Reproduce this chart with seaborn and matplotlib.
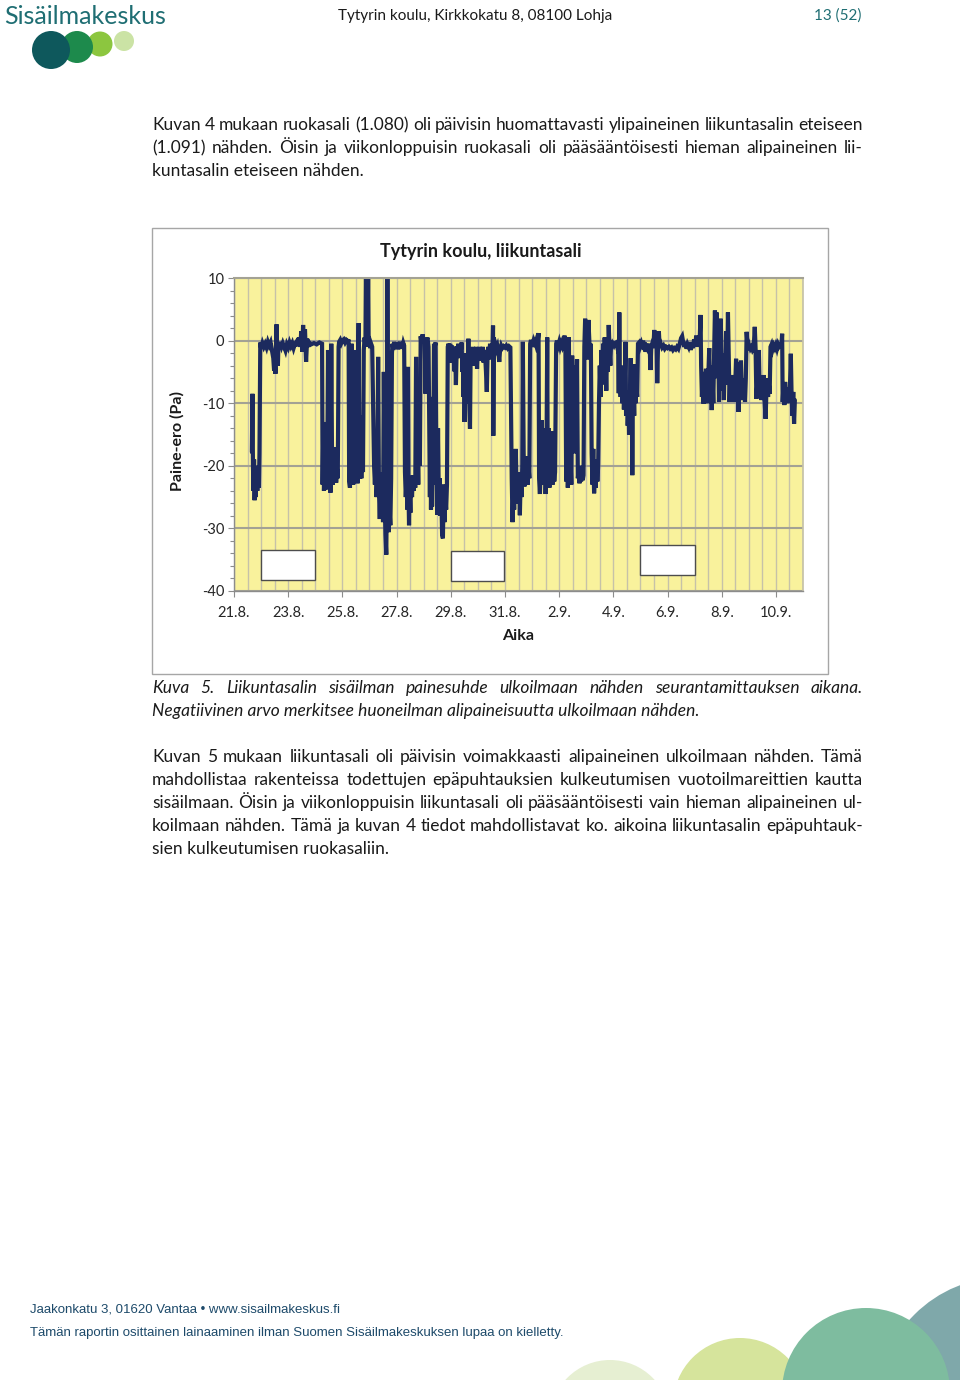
import numpy as np
import pandas as pd
import matplotlib
matplotlib.use("Agg")
import matplotlib.pyplot as plt
from matplotlib.patches import Circle, Rectangle
from matplotlib.ticker import MultipleLocator, FixedLocator
import seaborn as sns

# ---------------- data (day since 21.8., pressure difference Pa) ----------------
seg_a = [(0.66,-17.8),(0.68,-8.5),(0.70,-20),(0.72,-24),(0.74,-19),(0.76,-25.5),(0.78,-22),(0.80,-25),
         (0.83,-20),(0.86,-24),(0.89,-21),(0.92,-23.5),(0.94,-18)]
seg_b = [(0.97,-0.3),(1.0,-1.2),(1.05,-0.4),(1.10,-1.0),(1.15,-0.5),(1.20,-1.1),(1.25,-0.2),(1.30,-0.8),
         (1.35,-0.3),(1.40,-1.5),(1.45,-2.8),(1.48,-4.8),(1.50,-1.5),(1.53,-5.3),(1.55,-0.5),(1.57,2.6),
         (1.59,-1.0),(1.62,-4.0),(1.64,-0.6),(1.68,-1.3),(1.72,-0.2),(1.76,-0.9),(1.80,-0.4),(1.85,-1.0),
         (1.90,-1.6),(1.95,-0.6),(2.0,-1.1),(2.05,-0.3),(2.10,-0.9),(2.15,-0.4),(2.20,-1.2),(2.25,-0.5),
         (2.30,-0.2),(2.35,-0.9),(2.40,0.5),(2.45,-1.0),(2.48,1.5),(2.52,-1.8),(2.55,2.5),(2.58,-0.5),
         (2.62,1.8),(2.66,-3.4),(2.70,0.3),(2.74,-1.0),(2.78,-0.3),(2.85,-0.6),(2.95,-0.4),(3.05,-0.6),
         (3.15,-0.3),(3.25,-0.5)]
seg_c = [(3.27,-23),(3.30,-13),(3.32,-24),(3.35,-20),(3.38,-23.8),(3.41,-14),(3.44,-22),(3.47,-1.5),
         (3.50,-22.5),(3.53,-17),(3.56,-24.3),(3.59,-0.5),(3.62,-20),(3.65,-23),(3.68,-17),(3.71,-22),
         (3.74,-19),(3.77,-22.7),(3.80,-20.5),(3.83,-22),(3.86,-1.0)]
seg_d = [(3.88,-0.2),(3.92,0.1),(3.96,-0.4),(4.00,0.0),(4.05,0.2),(4.10,-0.3),(4.15,0.1),(4.20,-0.1),(4.23,0.2)]
seg_e = [(4.25,-22.5),(4.28,-23.5),(4.30,-10),(4.32,-23),(4.34,-0.5),(4.36,-22),(4.38,-18),(4.40,-23),
         (4.42,-5),(4.44,-21.5),(4.46,-12),(4.48,-22),(4.50,-1.5),(4.52,-19),(4.54,-13),(4.56,-22.8),
         (4.58,-4),(4.60,2.8),(4.62,-16),(4.64,-22)]
seg_f = [(4.67,-13),(4.70,-22),(4.73,-12),(4.76,-21),(4.79,-1.5),(4.82,0.5),(4.85,-1),(4.87,12),(4.89,0),
         (4.91,12),(4.93,-0.5),(4.95,12),(4.97,-1),(5.00,-0.3),(5.03,-1.2),(5.06,-0.5),(5.10,-1.0)]
seg_g = [(5.17,-20),(5.20,-23),(5.23,-19),(5.26,-25),(5.29,-22),(5.32,-2.6),(5.35,-24),(5.38,-28.5),
         (5.41,-22),(5.44,-26),(5.47,-21),(5.50,-29),(5.53,-5),(5.56,-25),(5.59,-31),(5.62,-34.2),
         (5.65,-20),(5.66,12),(5.68,-25),(5.71,-30.6),(5.74,-27),(5.77,-29.5),(5.80,-22),(5.83,-2)]
seg_h = [(5.85,-0.5),(5.88,-1.5),(5.91,-0.2),(5.94,-1.0),(5.97,-0.3),(6.00,-1.2),(6.03,-0.4),(6.06,-1.4),
         (6.09,-0.6),(6.12,-0.2),(6.15,-1.0),(6.18,-0.5),(6.21,-1.3),(6.25,-0.4),(6.28,-0.8)]
seg_i = [(6.31,-21),(6.34,-25),(6.37,-22),(6.40,-27),(6.42,-4.2),(6.44,-24),(6.46,-29.5),(6.48,-24),
         (6.51,-27.5),(6.54,-22),(6.57,-25),(6.60,-21.5),(6.63,-24),(6.66,-22),(6.69,-23.5),(6.72,-2.6),
         (6.75,-22),(6.78,-18),(6.80,-23),(6.83,-8.4),(6.86,-20),(6.89,0.7)]
seg_j = [(6.92,-0.5),(6.96,1.0),(7.00,-0.3),(7.04,0.3),(7.07,-8.5),(7.10,-0.2),(7.14,0.5),(7.18,-1.0),
         (7.21,-15),(7.23,-25),(7.25,-12),(7.27,-27),(7.29,-18),(7.31,-26.5),(7.33,-9),(7.35,-23),
         (7.38,-0.5),(7.41,-1),(7.44,-0.3),(7.47,-20),(7.50,-27.8),(7.53,-14),(7.56,-26),(7.59,-22),
         (7.62,-28),(7.65,-24),(7.68,-31),(7.71,-31.6),(7.74,-23),(7.77,-29),(7.80,-25),(7.83,-27),
         (7.86,-23),(7.89,-1.0)]
seg_k = [(7.92,-0.5),(7.95,-1.5),(7.98,-0.5),(8.01,-3.5),(8.04,-0.8),(8.07,-2.5),(8.10,-1.0),(8.13,-4.9),
         (8.16,-1.2),(8.19,-7.1),(8.22,-0.9),(8.25,-2.2),(8.28,-0.5),(8.31,-2.8),(8.34,-0.8),(8.37,-1.8),
         (8.40,-0.3),(8.43,-5),(8.45,-2),(8.47,-9),(8.49,-4),(8.51,-13.0),(8.53,-6),(8.55,-2),(8.57,-8),
         (8.59,-3),(8.61,-10),(8.63,-5),(8.65,0.3),(8.67,-7),(8.69,-11),(8.71,-14.1),(8.73,-4),(8.76,-1.5),
         (8.79,-3.5),(8.82,-1.0),(8.85,-4.0),(8.88,-1.5),(8.91,-2.8),(8.94,-1.0),(8.97,-4.5),(9.00,-1.2),
         (9.03,-2.5),(9.06,-1.0),(9.09,-3.2),(9.12,-1.4),(9.15,-2.0),(9.18,-1.0),(9.21,-3.5),(9.24,-1.5),
         (9.27,-2.5),(9.30,-5.0),(9.33,-8.2),(9.36,-2.0),(9.39,-1.0),(9.42,-3.0),(9.45,-0.5),(9.48,-2.0),
         (9.51,-0.8),(9.54,-1.5),(9.56,2.4),(9.57,-15.2),(9.59,0.5),(9.62,-1.2),(9.65,-0.8),(9.68,-1.4),
         (9.72,-0.9),(9.76,-2.0),(9.79,-3.4),(9.82,-1.5),(9.86,-0.8),(9.90,-1.2),(9.95,-0.9),(10.00,-1.1),
         (10.05,-0.8),(10.10,-1.2),(10.15,-0.9),(10.20,-1.1)]
seg_l = [(10.25,-22),(10.28,-29),(10.31,-24),(10.34,-27),(10.37,-22.5),(10.40,-17.3),(10.43,-25),(10.46,-23),
         (10.49,-26),(10.52,-21),(10.55,-27.9),(10.58,-22),(10.61,-25),(10.64,-20),(10.66,-0.2),(10.69,-18),
         (10.72,-23.3),(10.75,-19),(10.78,-22.5),(10.81,-18.5),(10.84,-23),(10.87,-20),(10.90,-22),
         (10.93,-0.5),(10.96,0.1),(11.00,-0.8),(11.04,-0.2),(11.08,-1.0),(11.12,-0.3),(11.16,-0.9),
         (11.20,-0.4),(11.24,1.2),(11.26,-22),(11.29,-24.5),(11.32,-20),(11.35,-12.7),(11.38,-22),
         (11.41,-14),(11.44,-23),(11.47,-19),(11.50,-24.5),(11.53,-21),(11.56,0.5),(11.58,-22),(11.61,-14),
         (11.64,-23.5),(11.67,-16),(11.70,-22),(11.73,-14.5),(11.76,-23),(11.79,-20),(11.82,-22.5),
         (11.85,-21),(11.89,-0.5)]
seg_m = [(11.92,0.0),(11.96,-0.8),(12.00,-0.2),(12.04,-1.0),(12.08,-0.4),(12.12,-0.9),(12.16,-0.3),
         (12.20,0.8),(12.23,-0.6),(12.26,-22.5),(12.29,-20),(12.32,-23.5),(12.35,-21),(12.36,0.5),
         (12.39,-22.8),(12.42,-19),(12.45,-23),(12.48,-2.4),(12.51,-10),(12.54,-4),(12.57,-18),(12.60,-6),
         (12.63,-10),(12.66,-3),(12.69,-22),(12.72,-20.5),(12.75,-22.8),(12.78,-21),(12.81,-22.5),
         (12.84,-20),(12.87,-22.3),(12.90,-21.5),(12.93,-1.0),(12.96,3.5),(12.99,-1.5),(13.02,2.0),
         (13.05,-3.0),(13.08,3.3),(13.11,0.5),(13.14,-2.5),(13.17,-0.5),(13.20,-18),(13.23,-23),
         (13.26,-17.3),(13.29,-24.4),(13.32,-21),(13.35,-23.5),(13.38,-19),(13.41,-22.5),(13.44,-20),
         (13.47,-10),(13.50,-4),(13.53,-9),(13.56,-1.5),(13.59,-7),(13.62,-0.5),(13.65,-6),(13.68,0.5),
         (13.71,-3),(13.74,-8),(13.77,-1),(13.80,-5),(13.83,2.5),(13.86,-1.5),(13.89,-4),(13.92,0.0),
         (13.95,-1.0),(13.98,-0.5),(14.02,-0.8),(14.06,-0.4)]
seg_n = [(14.10,-0.3),(14.14,-1.0),(14.18,-0.5),(14.20,-8.4),(14.22,4.5),(14.24,-6),(14.27,-9),(14.30,-4),
         (14.33,-10),(14.36,-5),(14.39,-11),(14.42,-7),(14.45,-0.2),(14.47,-12),(14.50,-8),(14.53,-13.6),
         (14.56,-10),(14.58,-15),(14.61,-11),(14.64,-2.8),(14.66,-12),(14.68,-9),(14.70,-21.5),(14.72,-10),
         (14.75,-8),(14.77,-12),(14.79,-3.8),(14.82,-10),(14.85,-7),(14.88,-9),(14.91,-0.5)]
seg_o = [(14.95,-0.3),(14.99,-1.0),(15.03,-0.5),(15.07,-1.2),(15.10,0.0),(15.13,-1.5),(15.16,-0.3),
         (15.19,-1.8),(15.22,-0.6),(15.25,-1.0),(15.28,-0.5),(15.31,-1.3),(15.34,-0.8),(15.37,-4.7),
         (15.40,-0.9),(15.44,-0.4),(15.48,-1.2),(15.51,1.7),(15.54,-0.8),(15.57,1.2),(15.60,-1.0),
         (15.62,-6.8),(15.65,-0.7),(15.68,1.5),(15.71,-1.0),(15.75,-0.5),(15.80,-1.1),(15.85,-0.8),
         (15.90,-1.3),(15.95,-1.0),(16.00,-1.2),(16.05,-1.0),(16.10,-1.3),(16.15,-1.1),(16.20,-1.5),
         (16.25,-1.2),(16.30,-1.4),(16.35,-1.0),(16.40,-1.3),(16.45,-0.5),(16.50,0.4),(16.54,0.7),
         (16.58,-0.3),(16.62,-1.0),(16.66,-0.2),(16.70,-1.3),(16.74,-0.6),(16.78,-1.0),(16.82,-0.3),
         (16.86,-1.5),(16.90,-0.4),(16.94,-1.2),(16.98,0.2),(17.02,-0.8),(17.06,0.8),(17.10,-1.0),
         (17.14,0.5),(17.18,-0.6)]
seg_p = [(17.22,4.1),(17.24,-4),(17.27,-9),(17.30,-5),(17.33,-10.1),(17.36,-6),(17.39,-9.5),(17.42,-4.5),
         (17.45,-8.5),(17.48,-10),(17.51,-5),(17.54,-1.2),(17.57,-9),(17.60,-4),(17.63,-11.1),(17.66,-6),
         (17.69,-10),(17.72,-2),(17.75,4.8),(17.78,-1),(17.81,4.5),(17.84,-6),(17.87,0.3),(17.90,-9.8),
         (17.93,-1),(17.96,3.5),(17.99,-0.5),(18.02,-8),(18.05,-2),(18.08,-9.5),(18.11,-3),(18.14,-7),
         (18.17,1.5),(18.20,-6),(18.23,4.5),(18.26,-3),(18.29,-9.8),(18.32,-6),(18.35,-9),(18.38,-5.5),
         (18.41,-8.5),(18.44,-6.5),(18.47,-9.8),(18.50,-7),(18.53,-2.9),(18.56,-9),(18.59,-3.5),
         (18.62,-11.4),(18.65,-5),(18.68,-9.5),(18.71,-3.2),(18.74,-8),(18.77,-6),(18.80,-9.5),(18.83,-7),
         (18.86,-9.8),(18.89,-6),(18.92,1.4),(18.95,-0.5),(18.98,-1.5),(19.02,-0.8),(19.06,-1.3),
         (19.10,-1.0),(19.14,-1.5),(19.18,-1.2),(19.22,2.2),(19.25,-1.3),(19.28,-9.3),(19.31,-7),(19.34,-9),
         (19.37,-1.5),(19.40,-8),(19.43,-6),(19.46,-9.5),(19.49,-7),(19.52,-9),(19.55,-5.5),(19.58,-9.5),
         (19.62,-12.5),(19.65,-8),(19.68,-6),(19.71,-9),(19.74,-7),(19.77,-8.5),(19.80,-1.0),(19.84,-0.6),
         (19.88,-1.4),(19.92,-0.8),(19.96,-1.2),(20.00,-0.7),(20.04,-1.3),(20.08,-0.6),(20.12,-1.0),
         (20.16,-0.8),(20.20,-1.2),(20.23,1.1),(20.25,-9.8),(20.28,-7),(20.31,-10.3),(20.34,-6.6),
         (20.37,-9),(20.40,-7.5),(20.43,-10),(20.46,-8),(20.49,-9.5),(20.52,-7),(20.55,-2.1),(20.58,-9),
         (20.61,-12),(20.64,-8.2),(20.67,-13.3),(20.70,-9.5)]

x_tick_days = [0, 2, 4, 6, 8, 10, 12, 14, 16, 18, 20]
x_tick_labels = ["21.8.", "23.8.", "25.8.", "27.8.", "29.8.", "31.8.", "2.9.", "4.9.", "6.9.", "8.9.", "10.9."]
y_ticks = [-40, -30, -20, -10, 0, 10]
# empty white label boxes (start day, end day, bottom Pa, top Pa)
box_start = [1.0, 8.0, 15.0]
box_end = [3.0, 9.95, 17.0]
box_low = [-38.2, -38.4, -37.4]
box_high = [-33.4, -33.6, -32.6]

segments = [seg_a, seg_b, seg_c, seg_d, seg_e, seg_f, seg_g, seg_h, seg_i, seg_j,
            seg_k, seg_l, seg_m, seg_n, seg_o, seg_p]
rows = [p for s in segments for p in s]
df = pd.DataFrame(rows, columns=["day", "pa"])

# ---------------- figure ----------------
sns.set_theme(style="white")
plt.rcParams['font.family'] = ['Lato', 'DejaVu Sans']
plt.rcParams['axes.unicode_minus'] = False

W, H = 960, 1380
fig = plt.figure(figsize=(W / 100, H / 100), dpi=100, facecolor="white")

bg = fig.add_axes([0, 0, 1, 1], zorder=0)
bg.set_xlim(0, W)
bg.set_ylim(H, 0)
bg.axis("off")

def px_axes(l, t, r, b):
    return [l / W, 1 - b / H, (r - l) / W, (b - t) / H]

# chart outer frame
bg.add_patch(Rectangle((152, 228), 828 - 152, 674 - 228, fill=False, ec="#a6a6a6", lw=1.0))

ax = fig.add_axes(px_axes(234, 278, 803, 591), zorder=2)
ax.set_facecolor("#f9f29c")
sns.lineplot(data=df, x="day", y="pa", ax=ax, color="#1c2a5e", linewidth=3.0,
             estimator=None, sort=False, solid_joinstyle="miter")
ax.set_xlim(0, 21.0)
ax.set_ylim(-40, 10)
ax.xaxis.set_major_locator(FixedLocator(x_tick_days))
ax.set_xticklabels(x_tick_labels)
ax.xaxis.set_minor_locator(MultipleLocator(0.5))
ax.yaxis.set_major_locator(FixedLocator(y_ticks))
ax.yaxis.set_minor_locator(MultipleLocator(2))
ax.grid(which="both", axis="x", color="#c6c2a8", lw=1.0)
ax.grid(which="major", axis="y", color="#a3a294", lw=1.5)
ax.set_axisbelow(True)
for sp in ["left", "bottom"]:
    ax.spines[sp].set_color("#8c8c8c")
    ax.spines[sp].set_linewidth(1.0)
ax.spines["top"].set_color("#a3a294")
ax.spines["top"].set_linewidth(1.5)
ax.spines["right"].set_color("#c6c2a8")
ax.tick_params(axis="y", which="major", left=True, length=4, width=0.8, color="#8c8c8c",
               pad=3, labelsize=10.5, labelcolor="#262626", direction="out")
ax.tick_params(axis="y", which="minor", left=True, length=3, width=0.8, color="#8c8c8c", direction="out")
ax.tick_params(axis="x", which="major", bottom=True, length=4, width=0.8, color="#8c8c8c",
               pad=7, labelsize=10.5, labelcolor="#262626", direction="out")
ax.tick_params(axis="x", which="minor", bottom=False)
ax.set_xlabel("")
ax.set_ylabel("")
for s0, s1, lo, hi in zip(box_start, box_end, box_low, box_high):
    ax.add_patch(Rectangle((s0, lo), s1 - s0, hi - lo, fc="white", ec="#4d4d4d", lw=1.0, zorder=5))

bg.text(481, 252, "Tytyrin koulu, liikuntasali", ha="center", va="center",
        fontsize=13, fontweight="bold", color="#1a1a1a")
bg.text(518, 636, "Aika", ha="center", va="center", fontsize=11.5, fontweight="bold", color="#1a1a1a")
bg.text(177, 441, "Paine-ero (Pa)", ha="center", va="center", rotation=90,
        fontsize=11.5, fontweight="bold", color="#1a1a1a")

# ---------------- header ----------------
bg.text(4, 16, "Sisäilmakeskus", ha="left", va="center", fontsize=18, color="#1f6e73")
for cx, cy, r, c in [(124, 41, 10, "#cbe3a5"), (100, 44, 12.5, "#8cc63f"),
                     (77, 47, 16, "#1d8a4c"), (51, 50, 19, "#0e585c")]:
    bg.add_patch(Circle((cx, cy), r, fc=c, ec="none"))
bg.text(475, 16, "Tytyrin koulu, Kirkkokatu 8, 08100 Lohja", ha="center", va="center",
        fontsize=11, color="#1a1a1a")
bg.text(861, 16, "13 (52)", ha="right", va="center", fontsize=11, color="#1f6e73")

# ---------------- body text ----------------
fig.canvas.draw()
renderer = fig.canvas.get_renderer()

def text_line(s, y, justify, x0=152, x1=863, **kw):
    if not justify:
        bg.text(x0, y, s, ha="left", va="center", **kw)
        return
    words = s.split()
    arts = [bg.text(0, y, w, ha="left", va="center", **kw) for w in words]
    widths = [a.get_window_extent(renderer).width for a in arts]
    gap = (x1 - x0 - sum(widths)) / (len(words) - 1)
    x = x0
    for a, w in zip(arts, widths):
        a.set_x(x)
        x += w + gap

body = dict(fontsize=12.5, color="#1a1a1a")
p1 = [("Kuvan 4 mukaan ruokasali (1.080) oli päivisin huomattavasti ylipaineinen liikuntasalin eteiseen", True),
      ("(1.091) nähden. Öisin ja viikonloppuisin ruokasali oli pääsääntöisesti hieman alipaineinen lii-", True),
      ("kuntasalin eteiseen nähden.", False)]
for i, (s, j) in enumerate(p1):
    text_line(s, 125 + 23 * i, j, **body)

cap = [("Kuva 5. Liikuntasalin sisäilman painesuhde ulkoilmaan nähden seurantamittauksen aikana.", True),
       ("Negatiivinen arvo merkitsee huoneilman alipaineisuutta ulkoilmaan nähden.", False)]
for i, (s, j) in enumerate(cap):
    text_line(s, 688 + 23 * i, j, fontstyle="italic", **body)

p2 = [("Kuvan 5 mukaan liikuntasali oli päivisin voimakkaasti alipaineinen ulkoilmaan nähden. Tämä", True),
      ("mahdollistaa rakenteissa todettujen epäpuhtauksien kulkeutumisen vuotoilmareittien kautta", True),
      ("sisäilmaan. Öisin ja viikonloppuisin liikuntasali oli pääsääntöisesti vain hieman alipaineinen ul-", True),
      ("koilmaan nähden. Tämä ja kuvan 4 tiedot mahdollistavat ko. aikoina liikuntasalin epäpuhtauk-", True),
      ("sien kulkeutumisen ruokasaliin.", False)]
for i, (s, j) in enumerate(p2):
    text_line(s, 757 + 23 * i, j, **body)

# ---------------- footer ----------------
for cx, cy, r, c in [(1005, 1405, 128, "#7fa8aa"), (610, 1420, 60, "#e6efd2"),
                     (740, 1405, 67, "#d6e49c"), (866, 1392, 84, "#7ebc9f")]:
    bg.add_patch(Circle((cx, cy), r, fc=c, ec="none", clip_on=True))
foot = dict(family=["Liberation Sans", "DejaVu Sans"], color="#1d4a6a")
bg.text(30, 1309, "Jaakonkatu 3, 01620 Vantaa • www.sisailmakeskus.fi", ha="left", va="center",
        fontsize=9.5, **foot)
bg.text(30, 1333, "Tämän raportin osittainen lainaaminen ilman Suomen Sisäilmakeskuksen lupaa on kielletty.",
        ha="left", va="center", fontsize=9.5, **foot)

fig.savefig("out.png", dpi=100, facecolor="white")
